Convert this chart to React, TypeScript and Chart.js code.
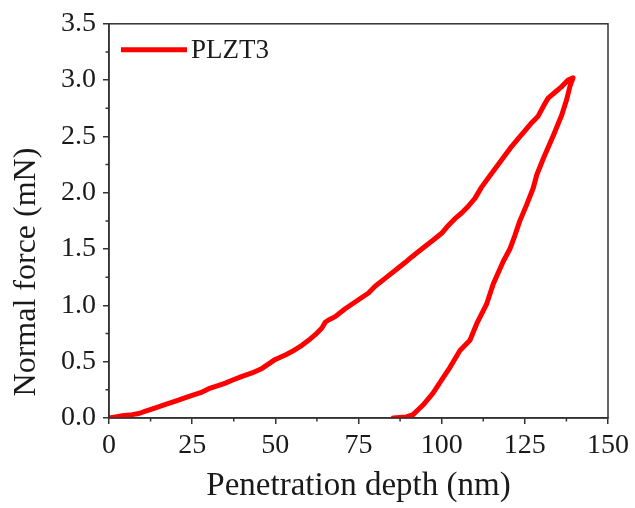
import React, { useEffect, useRef } from "react";
import { Chart, registerables } from "chart.js";

Chart.register(...registerables);

const SERIES_LABEL = "PLZT3";
const X_TITLE = "Penetration depth (nm)";
const Y_TITLE = "Normal force (mN)";

const xTicks = [0, 25, 50, 75, 100, 125, 150];
const yTicks = [0, 0.5, 1.0, 1.5, 2.0, 2.5, 3.0, 3.5];

// loading branch
const loadDepth = [
  0, 2, 4, 7, 9, 11, 14, 17, 20, 23, 25, 28, 30, 33, 35, 37, 40, 43, 46, 48,
  50, 53, 55, 58, 60, 62, 64, 65, 66, 68, 71, 73, 75, 78, 80, 83, 86, 89, 91,
  94, 97, 100, 102, 104, 106, 108, 110, 112, 114, 116, 118, 121, 123, 125, 127,
  129, 131, 132, 134, 136, 138, 139.5,
];
const loadForce = [
  0, 0.01, 0.02, 0.03, 0.04, 0.06, 0.09, 0.12, 0.15, 0.18, 0.2, 0.23, 0.26,
  0.29, 0.31, 0.335, 0.37, 0.4, 0.44, 0.48, 0.52, 0.56, 0.59, 0.645, 0.69,
  0.74, 0.8, 0.85, 0.87, 0.9, 0.97, 1.01, 1.05, 1.11, 1.17, 1.24, 1.31, 1.38,
  1.43, 1.5, 1.57, 1.64, 1.71, 1.77, 1.82, 1.88, 1.95, 2.05, 2.13, 2.21, 2.29,
  2.41, 2.48, 2.55, 2.62, 2.68, 2.79, 2.84, 2.89, 2.94, 3.0, 3.02,
];

// unloading branch
const unloadDepth = [
  139.5, 138.6, 137.6, 136.1, 133.6, 130.5, 128.6, 127.5, 125.5, 123.5, 122,
  120.5, 118.5, 115.5, 113.5, 110.5, 108.5, 105.5, 102.5, 100.5, 97.4, 94.4,
  91.4, 89.4, 85.4,
];
const unloadForce = [
  3.02, 2.95, 2.83, 2.69, 2.51, 2.3, 2.16, 2.04, 1.89, 1.75, 1.62, 1.5, 1.39,
  1.19, 1.01, 0.835, 0.69, 0.6, 0.45, 0.36, 0.22, 0.115, 0.03, 0.01, 0.0,
];

const FONT = "'Liberation Serif', 'Times New Roman', serif";
const AXIS_COLOR = "#333333";
const TEXT_COLOR = "#1a1a1a";
const LINE_COLOR = "#ff0000";

const decorPlugin = {
  id: "decor",
  afterDraw(chart: any) {
    const { ctx, chartArea: a, scales } = chart;
    const xs = scales.x;
    const ys = scales.y;
    ctx.save();
    // frame
    ctx.strokeStyle = AXIS_COLOR;
    ctx.lineWidth = 1.5;
    ctx.strokeRect(a.left, a.top, a.right - a.left, a.bottom - a.top);
    // minor ticks
    ctx.beginPath();
    for (let i = 0; i < xTicks.length - 1; i++) {
      const px = xs.getPixelForValue((xTicks[i] + xTicks[i + 1]) / 2);
      ctx.moveTo(px, a.bottom);
      ctx.lineTo(px, a.bottom + 3.5);
    }
    for (let i = 0; i < yTicks.length - 1; i++) {
      const py = ys.getPixelForValue((yTicks[i] + yTicks[i + 1]) / 2);
      ctx.moveTo(a.left, py);
      ctx.lineTo(a.left - 3.5, py);
    }
    ctx.stroke();
    // y title
    ctx.fillStyle = TEXT_COLOR;
    ctx.font = `32px ${FONT}`;
    ctx.textAlign = "center";
    ctx.textBaseline = "alphabetic";
    ctx.translate(35, a.bottom - 146);
    ctx.rotate(-Math.PI / 2);
    ctx.fillText(Y_TITLE, 0, 0);
    ctx.restore();
    // legend
    ctx.save();
    const ds = chart.data.datasets[0];
    ctx.strokeStyle = ds.borderColor;
    ctx.lineWidth = 5;
    ctx.beginPath();
    ctx.moveTo(a.left + 12, a.top + 26);
    ctx.lineTo(a.left + 78, a.top + 26);
    ctx.stroke();
    ctx.fillStyle = TEXT_COLOR;
    ctx.font = `27px ${FONT}`;
    ctx.textAlign = "left";
    ctx.textBaseline = "alphabetic";
    ctx.fillText(ds.label, a.left + 82, a.top + 34);
    ctx.restore();
  },
};

export default function App() {
  const ref = useRef<HTMLCanvasElement | null>(null);

  useEffect(() => {
    if (!ref.current) return;
    const points = loadDepth
      .map((x, i) => ({ x, y: loadForce[i] }))
      .concat(unloadDepth.map((x, i) => ({ x, y: unloadForce[i] })));

    const chart = new Chart(ref.current, {
      type: "scatter",
      data: {
        datasets: [
          {
            label: SERIES_LABEL,
            data: points,
            showLine: true,
            borderColor: LINE_COLOR,
            backgroundColor: LINE_COLOR,
            borderWidth: 5,
            borderJoinStyle: "round",
            borderCapStyle: "round",
            pointRadius: 0,
            tension: 0,
          },
        ],
      },
      options: {
        responsive: false,
        animation: false,
        layout: { padding: { top: 21, right: 27, left: 0, bottom: 0 } },
        plugins: {
          legend: { display: false },
          tooltip: { enabled: false },
        },
        scales: {
          x: {
            type: "linear",
            min: 0,
            max: 150,
            afterFit: (s: any) => {
              s.height = 90;
            },
            ticks: {
              stepSize: 25,
              color: TEXT_COLOR,
              padding: 5,
              font: { family: FONT, size: 28 },
            },
            grid: {
              drawOnChartArea: false,
              drawTicks: true,
              tickLength: 6,
              color: AXIS_COLOR,
              lineWidth: 1.5,
            },
            border: { display: true, color: AXIS_COLOR, width: 1.5 },
            title: {
              display: true,
              text: X_TITLE,
              color: TEXT_COLOR,
              font: { family: FONT, size: 33 },
              padding: { top: 0, bottom: 2 },
            },
          },
          y: {
            type: "linear",
            min: 0,
            max: 3.5,
            afterFit: (s: any) => {
              s.width = 109;
            },
            ticks: {
              stepSize: 0.5,
              color: TEXT_COLOR,
              padding: 7,
              font: { family: FONT, size: 28 },
              callback: (v: any) => Number(v).toFixed(1),
            },
            grid: {
              drawOnChartArea: false,
              drawTicks: true,
              tickLength: 6,
              color: AXIS_COLOR,
              lineWidth: 1.5,
            },
            border: { display: true, color: AXIS_COLOR, width: 1.5 },
          },
        },
      },
      plugins: [decorPlugin],
    });
    return () => chart.destroy();
  }, []);

  return (
    <div style={{ position: "absolute", left: 0, top: 0, width: 635, height: 508, background: "#fff" }}>
      <canvas ref={ref} width={635} height={508} style={{ display: "block" }} />
    </div>
  );
}
